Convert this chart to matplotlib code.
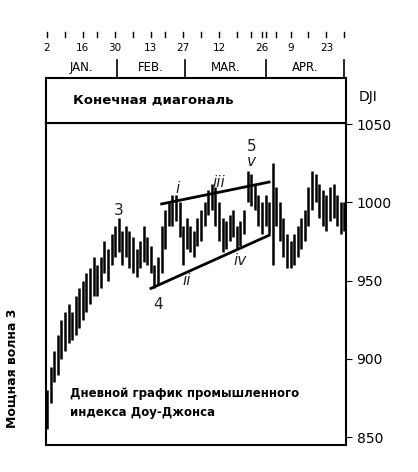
import matplotlib
matplotlib.use("Agg")
import matplotlib.pyplot as plt

highs = [880,895,905,915,925,930,935,930,940,945,950,955,958,965,960,965,975,970,980,985,
         990,982,985,982,978,970,975,985,978,972,960,965,985,995,1000,1005,1005,1000,985,990,
         985,982,990,995,1000,1008,1012,1010,1000,990,988,992,995,985,988,995,1020,1018,1012,1005,
         1000,1005,1000,1025,1010,1000,990,980,975,980,985,990,995,1010,1020,1018,1012,1008,1005,1010,
         1012,1005,1000,1000]
lows = [855,872,885,890,900,905,910,912,915,920,925,930,935,940,940,945,955,950,960,965,
        968,960,965,958,955,952,958,962,960,955,945,948,955,970,985,985,988,978,960,970,
        968,965,972,975,985,992,995,985,975,968,970,975,978,970,972,980,1000,998,995,985,
        980,985,980,960,985,975,965,958,958,960,965,970,975,985,995,1000,990,985,982,988,
        990,985,980,982]
day_ticks = [0, 10, 19, 29, 38, 48, 60, 68, 78]
day_labels = ["2", "16", "30", "13", "27", "12", "26", "9", "23"]
minor_ticks = [0, 5, 10, 14, 19, 24, 29, 33, 38, 43, 48, 53, 57, 60, 61, 64, 68, 73, 78, 83]
month_bounds = [19.4, 38.6, 61, 83]
month_names = ["JAN.", "FEB.", "MAR.", "APR."]
month_centers = [9.5, 29, 50, 72]
upper_x, upper_y = [32, 62], [999, 1013]
lower_x, lower_y = [29, 62], [945, 979]
wave_labels = [("3", 20, 995, "normal"), ("4", 31, 935, "normal"), ("i", 36.5, 1009, "italic"),
               ("ii", 39, 950, "italic"), ("iii", 48, 1013, "italic"), ("iv", 54, 963, "italic"),
               ("v", 57, 1026, "italic"), ("5", 57, 1036, "normal")]

fig = plt.figure(figsize=(4.18, 4.72), dpi=100)
x0, x1 = -0.3, 83.5
ax = fig.add_axes([0.110, 0.057, 0.718, 0.682])
top = fig.add_axes([0.110, 0.739, 0.718, 0.096])

for i, (h, l) in enumerate(zip(highs, lows)):
    ax.plot([i, i], [l, h], color="black", lw=1.8, solid_capstyle="butt")
ax.plot(upper_x, upper_y, color="black", lw=2)
ax.plot(lower_x, lower_y, color="black", lw=2)
for t, x, y, st in wave_labels:
    ax.text(x, y, t, ha="center", va="center", fontsize=11, style=st, color="#222")
ax.set_xlim(x0, x1)
ax.set_ylim(844.9, 1050.6)
ax.set_xticks([])
ax.yaxis.tick_right()
ax.set_yticks([850, 900, 950, 1000, 1050])
ax.tick_params(axis="y", labelsize=10, length=4, direction="out")
for s in ax.spines.values():
    s.set_linewidth(1.5)
ax.text(0.08, 0.13, "Дневной график промышленного\nиндекса Доу-Джонса", transform=ax.transAxes,
        fontsize=8.5, fontweight="bold", va="center", linespacing=1.6)
fig.text(0.03, 0.22, "Мощная волна 3", rotation=90, fontsize=9, fontweight="bold", va="center", ha="center")

top.set_xlim(x0, x1)
top.set_ylim(0, 1)
top.set_yticks([])
top.set_xticks([])
for s in top.spines.values():
    s.set_linewidth(1.5)
top.text(0.09, 0.5, "Конечная диагональ", transform=top.transAxes, fontsize=9.5, fontweight="bold", va="center")
fig.text(0.88, 0.795, "DJI", fontsize=10, ha="center", va="center")

for t in minor_ticks:
    top.plot([t, t], [1.9, 2.02], color="black", lw=1, clip_on=False)
for t, lab in zip(day_ticks, day_labels):
    top.text(t, 1.65, lab, ha="center", va="center", fontsize=7.5)
for b in month_bounds:
    top.plot([b, b], [1.0, 1.4], color="black", lw=1.2, clip_on=False)
for c, m in zip(month_centers, month_names):
    top.text(c, 1.23, m, ha="center", va="center", fontsize=8.5)

fig.savefig("out.png", dpi=100)
